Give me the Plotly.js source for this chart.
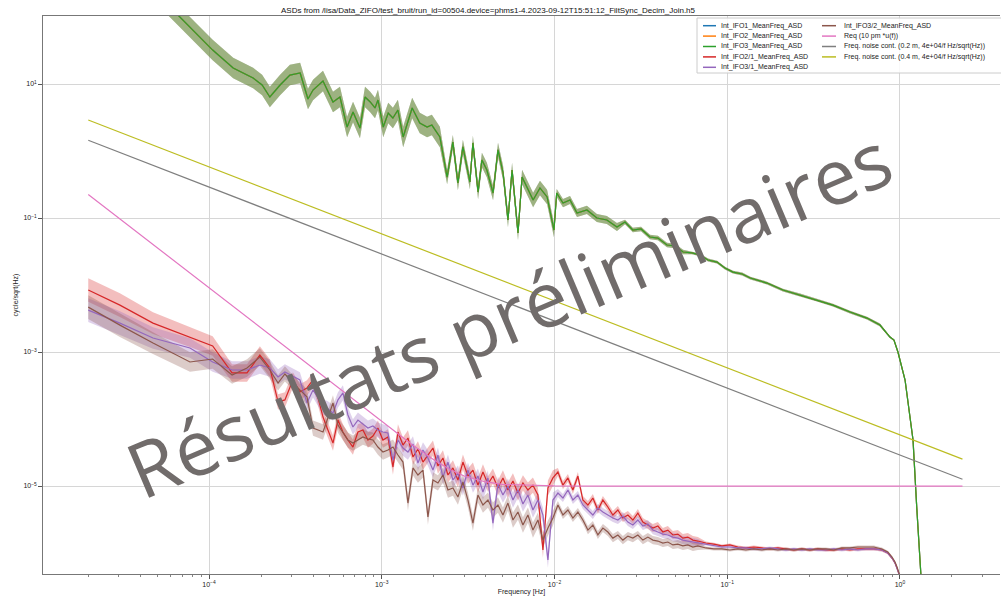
<!DOCTYPE html>
<html>
<head>
<meta charset="utf-8">
<script src="https://cdn.plot.ly/plotly-3.0.1.min.js"></script>
<style>
html,body{margin:0;padding:0;background:#fff;}
#chart{width:1001px;height:599px;}
</style>
</head>
<body>
<div id="chart"></div>
<script>
// ---------------- texts ----------------
const titleText = "ASDs from /lisa/Data_ZIFO/test_bruit/run_id=00504.device=phms1-4.2023-09-12T15:51:12_FiltSync_Decim_Join.h5";
const xLabel = "Frequency [Hz]";
const yLabel = "cycle/sqrt(Hz)";
const watermarkText = "Résultats préliminaires";
const seriesNames = [
  "Int_IFO1_MeanFreq_ASD", "Int_IFO2_MeanFreq_ASD", "Int_IFO3_MeanFreq_ASD",
  "Int_IFO2/1_MeanFreq_ASD", "Int_IFO3/1_MeanFreq_ASD", "Int_IFO3/2_MeanFreq_ASD",
  "Req (10 pm *u(f))",
  "Freq. noise cont. (0.2 m, 4e+04/f Hz/sqrt(Hz))",
  "Freq. noise cont. (0.4 m, 4e+04/f Hz/sqrt(Hz))"
];
const seriesColors = ["#1f77b4","#ff7f0e","#2ca02c","#d62728","#9467bd","#8c564b","#e377c2","#7f7f7f","#bcbd22"];
const xTickVals = [1e-4, 1e-3, 1e-2, 1e-1, 1];
const xTickText = ["10<sup>−4</sup>","10<sup>−3</sup>","10<sup>−2</sup>","10<sup>−1</sup>","10<sup>0</sup>"];
const yTickVals = [10, 0.1, 1e-3, 1e-5];
const yTickText = ["10<sup>1</sup>","10<sup>−1</sup>","10<sup>−3</sup>","10<sup>−5</sup>"];

// ---------------- single-interferometer ASD (IFO1, IFO2, IFO3 overlap) ----------------
const ifoFreq = [
  2.0e-5,3.05e-5,4.55e-5,6.79e-5,8.07e-5,1.05e-4,1.38e-4,1.80e-4,2.03e-4,2.25e-4,
  2.58e-4,2.94e-4,3.37e-4,3.74e-4,4.00e-4,4.57e-4,5.22e-4,5.73e-4,6.30e-4,6.82e-4,
  7.48e-4,8.00e-4,8.55e-4,9.14e-4,9.51e-4,1.02e-3,1.09e-3,1.16e-3,1.24e-3,1.33e-3,
  1.50e-3,1.66e-3,1.83e-3,1.95e-3,2.17e-3,2.39e-3,2.58e-3,2.76e-3,2.95e-3,3.24e-3,
  3.37e-3,3.61e-3,3.80e-3,4.06e-3,4.41e-3,4.71e-3,5.04e-3,5.38e-3,5.68e-3,6.15e-3,
  6.49e-3,6.93e-3,7.52e-3,8.24e-3,9.06e-3,9.93e-3,1.03e-2,1.12e-2,1.23e-2,1.35e-2,
  1.54e-2,1.76e-2,2.01e-2,2.30e-2,2.56e-2,2.84e-2,3.17e-2,3.57e-2,3.97e-2,4.48e-2,
  4.99e-2,5.55e-2,6.25e-2,6.95e-2,7.74e-2,8.73e-2,9.70e-2,0.108,0.122,0.136,
  0.170,0.210,0.264,0.331,0.409,0.514,0.644,0.766,0.875,0.923,
  0.973,1.07,1.19,1.25,1.32,1.40
];
const ifo3Asd = [
  1580,631,282,101,64,32.1,17.3,12.3,9.66,6.40,
  9.66,13.6,14.6,5.97,8.13,11.1,5.38,6.40,2.28,3.82,
  2.20,6.40,5.44,4.39,5.77,2.28,3.69,3.11,4.09,1.62,
  4.39,2.62,2.28,2.44,1.62,0.409,1.36,0.333,1.15,0.344,
  1.32,0.244,0.734,0.520,0.236,1.04,0.470,0.0933,0.520,0.0597,
  0.409,0.290,0.186,0.281,0.206,0.0662,0.236,0.167,0.186,0.119,
  0.132,0.100,0.0933,0.0735,0.0871,0.0662,0.0686,0.0520,0.0502,0.0395,
  0.0382,0.0311,0.0301,0.0281,0.0236,0.0220,0.0179,0.0156,0.0146,0.0127,
  0.0107,8.41e-3,7.10e-3,5.97e-3,5.02e-3,3.95e-3,3.21e-3,2.53e-3,1.67e-3,1.51e-3,
  1.0e-3,3.82e-4,4.86e-5,4.86e-6,5.0e-7,1e-8
];
// IFO1 and IFO2 lie exactly under IFO3 in the picture
const ifo1Asd = ifo3Asd;
const ifo2Asd = ifo3Asd;
// multiplicative half-width of the shaded band
const ifoSpread = [
  1.42,1.42,1.42,1.42,1.42,1.42,1.42,1.42,1.42,1.42,
  1.42,1.42,1.42,1.42,1.42,1.42,1.42,1.42,1.42,1.42,
  1.42,1.42,1.42,1.42,1.42,1.42,1.42,1.42,1.42,1.42,
  1.42,1.42,1.42,1.42,1.42,1.28,1.28,1.28,1.28,1.28,
  1.28,1.28,1.28,1.28,1.28,1.28,1.28,1.28,1.28,1.28,
  1.28,1.28,1.28,1.28,1.28,1.28,1.15,1.15,1.15,1.15,
  1.15,1.15,1.15,1.15,1.08,1.08,1.08,1.08,1.08,1.08,
  1.08,1.08,1.05,1.05,1.05,1.05,1.05,1.05,1.05,1.05,
  1.05,1.05,1.05,1.05,1.05,1.05,1.05,1.05,1.03,1.03,
  1.03,1.03,1.03,1.03,1.03,1.03
];

// ---------------- inter-interferometer ASDs ----------------
const pairFreq = [
  2.00e-5,3.05e-5,4.74e-5,7.76e-5,1.05e-4,1.36e-4,1.66e-4,1.97e-4,2.25e-4,
  2.51e-4,2.75e-4,3.06e-4,3.36e-4,3.69e-4,4.00e-4,4.28e-4,4.57e-4,4.88e-4,5.22e-4,
  5.58e-4,5.96e-4,6.37e-4,6.81e-4,7.28e-4,7.78e-4,8.32e-4,8.89e-4,9.50e-4,1.016e-3,
  1.086e-3,1.161e-3,1.241e-3,
  1.327e-3,1.418e-3,1.516e-3,1.620e-3,1.732e-3,1.851e-3,1.979e-3,2.115e-3,2.261e-3,2.417e-3,
  2.583e-3,2.761e-3,2.951e-3,3.155e-3,3.372e-3,3.604e-3,3.853e-3,4.118e-3,4.402e-3,4.705e-3,
  5.030e-3,5.376e-3,5.747e-3,6.143e-3,6.566e-3,7.018e-3,7.502e-3,8.019e-3,8.571e-3,9.162e-3,
  9.793e-3,1.047e-2,1.119e-2,1.196e-2,1.278e-2,1.366e-2,1.460e-2,1.561e-2,1.668e-2,1.783e-2,
  1.906e-2,2.037e-2,2.178e-2,2.328e-2,2.488e-2,2.660e-2,2.843e-2,3.039e-2,3.248e-2,3.472e-2,
  3.711e-2,3.967e-2,4.240e-2,4.532e-2,4.844e-2,5.178e-2,5.535e-2,5.916e-2,6.324e-2,6.760e-2,
  7.52e-2,8.37e-2,9.31e-2,0.1036,0.1152,0.1282,0.1426,0.1587,0.1765,0.1964,
  0.2185,0.2431,0.2704,0.3008,0.3347,0.3723,0.4142,0.4608,0.5127,0.5703,
  0.6345,0.7059,0.7853,
  0.850,0.899,0.936,0.961,0.987,1.0,1.041
];
const ifo21Asd = [
  8.42e-3,5.01e-3,2.70e-3,1.67e-3,1.23e-3,4.87e-4,4.87e-4,9.02e-4,5.78e-4,
  1.80e-4,1.93e-4,3.83e-4,2.54e-4,2.91e-4,3.83e-4,2.06e-4,1.07e-4,6.85e-5,4.38e-5,
  9.66e-5,6.40e-5,4.86e-5,3.82e-5,6.40e-5,6.85e-5,4.86e-5,5.57e-5,7.34e-5,4.86e-5,
  5.39e-5,1.92e-5,6.40e-5,
  4.09e-5,5.21e-5,2.71e-5,3.57e-5,2.28e-5,2.90e-5,3.69e-5,1.99e-5,2.62e-5,1.46e-5,
  1.86e-5,1.23e-5,2.28e-5,1.41e-5,1.73e-5,1.03e-5,1.62e-5,1.07e-5,1.41e-5,9.34e-6,
  1.32e-5,8.72e-6,1.19e-5,7.86e-6,1.11e-5,8.72e-6,1.03e-5,7.34e-6,1.11e-6,9.34e-6,
  1.32e-5,1.62e-5,1.03e-5,1.32e-5,8.72e-6,1.41e-5,6.18e-6,5.21e-6,6.62e-6,4.38e-6,
  6.18e-6,4.86e-6,3.69e-6,4.38e-6,3.33e-6,3.69e-6,3.11e-6,3.95e-6,2.90e-6,2.62e-6,
  2.36e-6,2.53e-6,2.06e-6,2.20e-6,1.86e-6,1.92e-6,1.67e-6,1.73e-6,1.56e-6,1.51e-6,
  1.41e-6,1.36e-6,1.28e-6,1.32e-6,1.23e-6,1.19e-6,1.23e-6,1.19e-6,1.15e-6,1.19e-6,
  1.15e-6,1.11e-6,1.15e-6,1.11e-6,1.15e-6,1.11e-6,1.11e-6,1.15e-6,1.11e-6,1.15e-6,
  1.15e-6,1.15e-6,1.11e-6,
  1.0e-6,8.42e-7,7.09e-7,5.97e-7,4.86e-7,3.95e-7,1e-7
];
const ifo31Asd = [
  4.22e-3,2.70e-3,1.62e-3,1.15e-3,7.10e-4,5.39e-4,5.39e-4,6.40e-4,5.78e-4,
  4.24e-4,5.04e-4,4.39e-4,3.83e-4,1.74e-4,2.72e-4,2.06e-4,1.52e-4,1.42e-4,1.23e-4,
  1.93e-4,2.45e-4,1.15e-4,7.60e-5,9.66e-5,8.42e-5,7.34e-5,7.86e-5,6.85e-5,6.40e-5,
  6.18e-5,2.44e-5,4.86e-5,
  3.69e-5,3.22e-5,4.24e-5,2.20e-5,3.45e-5,2.62e-5,1.73e-5,2.90e-5,1.36e-5,2.28e-5,
  1.23e-5,1.56e-5,9.34e-6,1.73e-5,1.03e-5,1.41e-5,8.13e-6,1.32e-5,2.80e-6,1.07e-5,
  7.34e-6,1.0e-5,6.18e-6,8.72e-6,5.38e-6,7.34e-6,4.38e-6,6.18e-6,3.69e-6,7.86e-7,
  6.18e-6,7.86e-6,6.62e-6,8.72e-6,6.18e-6,7.34e-6,5.21e-6,4.38e-6,3.69e-6,4.69e-6,
  4.09e-6,3.69e-6,3.33e-6,3.11e-6,3.57e-6,2.90e-6,2.62e-6,3.11e-6,2.53e-6,2.71e-6,
  2.20e-6,2.06e-6,1.92e-6,1.86e-6,1.73e-6,1.67e-6,1.56e-6,1.51e-6,1.46e-6,1.41e-6,
  1.36e-6,1.28e-6,1.23e-6,1.23e-6,1.19e-6,1.19e-6,1.15e-6,1.15e-6,1.19e-6,1.15e-6,
  1.11e-6,1.15e-6,1.11e-6,1.15e-6,1.11e-6,1.11e-6,1.15e-6,1.11e-6,1.15e-6,1.11e-6,
  1.15e-6,1.15e-6,1.11e-6,
  1.0e-6,8.42e-7,7.09e-7,5.97e-7,4.86e-7,3.95e-7,1e-7
];
const ifo32Asd = [
  4.68e-3,2.52e-3,1.36e-3,7.10e-4,7.86e-4,4.54e-4,5.78e-4,8.42e-4,5.39e-4,
  3.45e-4,4.70e-4,3.45e-4,2.72e-4,2.14e-4,7.34e-5,6.85e-5,6.40e-5,1.04e-4,1.74e-4,
  8.13e-5,6.18e-5,4.86e-5,4.38e-5,4.86e-5,5.39e-5,5.03e-5,4.86e-5,3.82e-5,3.22e-5,
  3.45e-5,3.82e-5,2.90e-5,
  2.28e-5,5.57e-6,1.86e-5,1.46e-5,1.73e-5,3.45e-6,1.23e-5,1.11e-5,1.46e-5,8.72e-6,
  9.34e-6,6.85e-6,1.15e-5,6.18e-6,2.80e-6,7.34e-6,5.21e-6,6.18e-6,4.38e-6,5.21e-6,
  3.69e-6,5.57e-6,3.11e-6,4.09e-6,2.62e-6,3.69e-6,2.20e-6,3.11e-6,1.56e-6,2.36e-6,
  3.33e-6,5.21e-6,3.69e-6,4.38e-6,3.33e-6,4.09e-6,3.11e-6,2.20e-6,2.62e-6,1.86e-6,
  2.36e-6,2.06e-6,1.67e-6,1.86e-6,1.56e-6,1.79e-6,1.67e-6,1.86e-6,1.56e-6,1.73e-6,
  1.56e-6,1.51e-6,1.41e-6,1.46e-6,1.32e-6,1.36e-6,1.28e-6,1.32e-6,1.23e-6,1.28e-6,
  1.19e-6,1.15e-6,1.15e-6,1.11e-6,1.15e-6,1.11e-6,1.15e-6,1.11e-6,1.15e-6,1.11e-6,
  1.15e-6,1.11e-6,1.15e-6,1.11e-6,1.15e-6,1.15e-6,1.11e-6,1.19e-6,1.19e-6,1.23e-6,
  1.23e-6,1.23e-6,1.15e-6,
  1.04e-6,8.72e-7,7.34e-7,6.18e-7,5.03e-7,3.95e-7,1e-7
];
const pairSpread = [
  1.5,1.5,1.45,1.4,1.4,1.35,1.35,1.35,1.35,
  1.3,1.3,1.3,1.3,1.3,1.3,1.3,1.3,1.3,1.3,1.3,1.3,1.3,1.3,1.3,1.3,1.3,1.3,1.3,1.3,1.3,1.3,1.3,
  1.3,1.3,1.3,1.3,1.3,1.3,1.3,1.3,1.3,1.3,1.3,1.3,1.3,1.3,1.3,1.3,1.3,1.3,1.3,1.3,
  1.3,1.3,1.3,1.3,1.3,1.3,1.3,1.3,1.3,1.3,1.3,
  1.15,1.15,1.15,1.15,1.15,1.15,1.15,1.15,1.15,1.15,1.15,1.15,1.15,1.15,1.15,
  1.15,1.15,1.15,1.15,1.15,1.15,1.15,1.15,1.15,1.15,1.15,1.15,1.15,1.15,
  1.05,1.05,1.05,1.05,1.05,1.05,1.05,1.05,1.05,1.05,1.05,1.05,1.05,1.05,1.05,1.05,
  1.05,1.05,1.05,1.05,1.05,1.05,1.05,
  1.04,1.04,1.04,1.04,1.04,1.04,1.04
];

// ---------------- requirement & noise contributions ----------------
const reqFreq = [2e-5,3e-5,5e-5,7e-5,1e-4,1.5e-4,2e-4,3e-4,5e-4,7e-4,1e-3,1.5e-3,2e-3,2.5e-3,3e-3,4e-3,5e-3,7e-3,1e-2,2e-2,1e-1,1,2.3];
const reqAsd  = [0.225,0.1,0.036,0.0184,9.0e-3,4.0e-3,2.25e-3,1.0e-3,3.6e-4,1.84e-4,9.06e-5,4.12e-5,2.46e-5,1.75e-5,1.41e-5,1.15e-5,1.06e-5,1.02e-5,1.004e-5,1e-5,1e-5,1e-5,1e-5];
const contFreq = [2e-5, 2.3];
const cont02Asd = [1.45, 1.26e-5];
const cont04Asd = [2.9, 2.52e-5];

// ---------------- layout helpers (pixel placement of decorations) ----------------
const W = 1001, H = 599;
const M = {l:43, r:1, t:16, b:25};
const PW = W - M.l - M.r, PH = H - M.t - M.b;
const px = x => (x - M.l) / PW;
const py = y => (H - M.b - y) / PH;
const FONT = "Liberation Sans, Arial, sans-serif";

function rgba(hex, a){
  const n = parseInt(hex.slice(1),16);
  return `rgba(${(n>>16)&255},${(n>>8)&255},${n&255},${a})`;
}
function bandTrace(freq, vals, spread, color){
  const up = vals.map((v,i)=>v*spread[i]);
  const lo = vals.map((v,i)=>v/spread[i]).reverse();
  return {x: freq.concat(freq.slice().reverse()), y: up.concat(lo), type:'scatter', mode:'lines',
    fill:'toself', fillcolor: rgba(color,0.3), line:{width:0}, hoverinfo:'skip', showlegend:false};
}
function lineTrace(freq, vals, idx, w){
  return {x: freq, y: vals, type:'scatter', mode:'lines', name: seriesNames[idx],
    line:{color: seriesColors[idx], width: w||1.2}, showlegend:false};
}

const data = [
  bandTrace(ifoFreq, ifo1Asd, ifoSpread, seriesColors[0]),
  bandTrace(ifoFreq, ifo2Asd, ifoSpread, seriesColors[1]),
  bandTrace(ifoFreq, ifo3Asd, ifoSpread, seriesColors[2]),
  lineTrace(ifoFreq, ifo1Asd, 0),
  lineTrace(ifoFreq, ifo2Asd, 1),
  lineTrace(ifoFreq, ifo3Asd, 2),
  bandTrace(pairFreq, ifo21Asd, pairSpread, seriesColors[3]),
  bandTrace(pairFreq, ifo31Asd, pairSpread, seriesColors[4]),
  bandTrace(pairFreq, ifo32Asd, pairSpread, seriesColors[5]),
  lineTrace(pairFreq, ifo21Asd, 3),
  lineTrace(pairFreq, ifo31Asd, 4),
  lineTrace(pairFreq, ifo32Asd, 5),
  lineTrace(reqFreq, reqAsd, 6),
  lineTrace(contFreq, cont02Asd, 7),
  lineTrace(contFreq, cont04Asd, 8)
];

// minor ticks on the log x axis
const minorX = [];
for (let e = -5; e <= 0; e++) for (let k = 2; k <= 9; k++) minorX.push(k * Math.pow(10, e));

// hand-drawn legend (matplotlib style, 2 columns)
const shapes = [{type:'rect', xref:'paper', yref:'paper', x0:px(697), x1:px(1012), y0:py(73), y1:py(18),
  fillcolor:'rgba(255,255,255,0.85)', line:{color:'#cccccc', width:1}, layer:'above'}];
const annotations = [];
const colX = [[703,716,719],[822,836,842]];
const rowY = [25.7, 36.1, 46.5, 56.9, 67.3];
seriesNames.forEach((nm,i)=>{
  const c = i < 5 ? 0 : 1, r = i < 5 ? i : i - 5;
  shapes.push({type:'line', xref:'paper', yref:'paper', x0:px(colX[c][0]), x1:px(colX[c][1]),
    y0:py(rowY[r]), y1:py(rowY[r]), line:{color:seriesColors[i], width:1.5}, layer:'above'});
  annotations.push({xref:'paper', yref:'paper', x:px(colX[c][2]), y:py(rowY[r]), text:nm,
    showarrow:false, xanchor:'left', yanchor:'middle', font:{size:7, family:FONT, color:'#222'}});
});
annotations.push({xref:'paper', yref:'paper', x:px(508), y:py(313), text:watermarkText, showarrow:false,
  textangle:-23, xanchor:'center', yanchor:'middle',
  font:{family:'Open Sans, sans-serif', size:77, color:'#716c6b'}});

const layout = {
  width: W, height: H, margin: M,
  paper_bgcolor:'#fff', plot_bgcolor:'#fff', showlegend:false,
  title: {text: titleText, font:{size:8, family:FONT, color:'#111'}, xref:'container', yref:'container',
          x: 488/W, y: 1 - 10.5/H, xanchor:'center', yanchor:'middle'},
  xaxis: {type:'log', range:[-4.961, 0.579], tickvals:xTickVals, ticktext:xTickText,
          ticks:'outside', ticklen:3.5, tickwidth:1, tickcolor:'#555',
          showgrid:true, gridcolor:'#d6d6d6', gridwidth:1, zeroline:false,
          showline:true, linecolor:'#777', linewidth:1.3, mirror:true,
          tickfont:{size:7, family:FONT, color:'#222'},
          minor:{tickvals:minorX, ticks:'outside', ticklen:2, tickwidth:0.8, tickcolor:'#666', showgrid:false},
          title:{text:xLabel, font:{size:7, family:FONT, color:'#222'}, standoff:2}},
  yaxis: {type:'log', range:[-6.313, 2.015], tickvals:yTickVals, ticktext:yTickText,
          ticks:'outside', ticklen:3.5, tickwidth:1, tickcolor:'#555',
          showgrid:true, gridcolor:'#d6d6d6', gridwidth:1, zeroline:false,
          showline:true, linecolor:'#777', linewidth:1.3,
          tickfont:{size:7, family:FONT, color:'#222'},
          title:{text:yLabel, font:{size:7, family:FONT, color:'#222'}, standoff:4}},
  shapes: shapes,
  annotations: annotations
};

Plotly.newPlot('chart', data, layout, {displayModeBar:false, staticPlot:true});
</script>
</body>
</html>
